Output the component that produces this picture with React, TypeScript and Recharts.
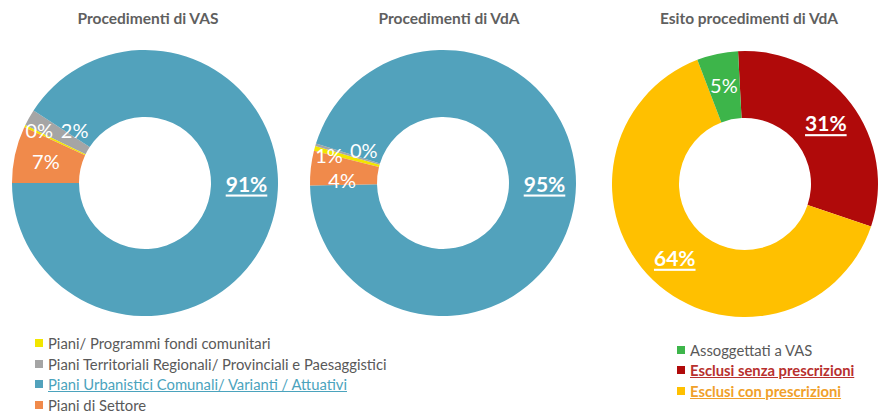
import React from "react";
import { PieChart, Pie, Cell } from "recharts";

// ---------- data ----------
const vasCategories = [
  "Piani/ Programmi fondi comunitari",
  "Piani Territoriali Regionali/ Provinciali e Paesaggistici",
  "Piani Urbanistici Comunali/ Varianti / Attuativi",
  "Piani di Settore",
];
const vasValues = [0.3, 2.0, 90.8, 6.9];
const vdaValues = [0.6, 0.3, 94.9, 4.2];

const esitoCategories = ["Esclusi senza prescrizioni", "Esclusi con prescrizioni", "Assoggettati a VAS"];
const esitoValues = [31, 64, 5];
const esitoLegendOrder = [2, 0, 1];

const chartTitles = ["Procedimenti di VAS", "Procedimenti di VdA", "Esito procedimenti di VdA"];

// ---------- styles ----------
const FONT = "Lato, 'Open Sans', sans-serif";
const planColors = ["#F2E600", "#A5A5A5", "#52A2BC", "#F08A4B"];
const esitoColors = ["#B00A0A", "#FFC000", "#3DB54A"];
const W = 887;
const H = 415;
const OUTER = 133;
const INNER = 66;
const RADIAN = Math.PI / 180;

const vasData = vasCategories.map((name, i) => ({ name, value: vasValues[i] }));
const vdaData = vasCategories.map((name, i) => ({ name, value: vdaValues[i] }));
const esitoData = esitoCategories.map((name, i) => ({ name, value: esitoValues[i] }));

type LabelCfg = {
  mainIndex: number | null;
  bold: number[];
  nudge: Record<number, [number, number]>;
};

const makeLabel = (cfg: LabelCfg) => (props: any) => {
  const { cx, cy, midAngle, innerRadius, outerRadius, index, value } = props;
  const r = (innerRadius + outerRadius) / 2 + 2;
  const ang = cfg.mainIndex === index ? 0 : midAngle;
  let x = cx + r * Math.cos(-ang * RADIAN);
  let y = cy + r * Math.sin(-ang * RADIAN);
  const n = cfg.nudge[index];
  if (n) {
    x += n[0];
    y += n[1];
  }
  const bold = cfg.bold.includes(index);
  return (
    <text
      x={x}
      y={y}
      fill="#FFFFFF"
      textAnchor="middle"
      dominantBaseline="central"
      fontFamily={FONT}
      fontSize={bold ? 21 : 20}
      fontWeight={bold ? 700 : 400}
      textDecoration={bold ? "underline" : undefined}
      style={bold ? { textDecoration: "underline" } : undefined}
    >
      {Math.round(value) + "%"}
    </text>
  );
};

const titleStyle = (cx: number): React.CSSProperties => ({
  position: "absolute",
  top: 8,
  left: cx - 110,
  width: 220,
  textAlign: "center",
  fontFamily: FONT,
  fontWeight: 700,
  fontSize: 15.5,
  color: "#5F5F5F",
  lineHeight: "20px",
});

const legendRow = (
  color: string,
  text: string,
  top: number,
  left: number,
  textStyle: React.CSSProperties
) => (
  <div
    key={text}
    style={{
      position: "absolute",
      top,
      left,
      height: 20,
      display: "flex",
      alignItems: "center",
      fontFamily: FONT,
      fontSize: 14.8,
      whiteSpace: "nowrap",
    }}
  >
    <span style={{ width: 8, height: 8, background: color, display: "inline-block", marginRight: 5 }} />
    <span style={textStyle}>{text}</span>
  </div>
);

export default function App() {
  const leftLegendStyles: React.CSSProperties[] = [
    { color: "#595959" },
    { color: "#595959" },
    { color: "#4BA3BD", textDecoration: "underline" },
    { color: "#595959" },
  ];
  const rightLegendStyles: Record<number, React.CSSProperties> = {
    2: { color: "#595959" },
    0: { color: "#B8302E", fontWeight: 700, textDecoration: "underline" },
    1: { color: "#F0A02A", fontWeight: 700, textDecoration: "underline" },
  };
  return (
    <div style={{ position: "relative", width: W, height: H, background: "#FFFFFF", overflow: "hidden" }}>
      <style>{"body{margin:0}"}</style>
      <div style={titleStyle(148)}>{chartTitles[0]}</div>
      <div style={titleStyle(449)}>{chartTitles[1]}</div>
      <div style={titleStyle(749)}>{chartTitles[2]}</div>
      <div style={{ position: "absolute", left: 0, top: 0 }}>
        <PieChart width={W} height={H} margin={{ top: 0, right: 0, bottom: 0, left: 0 }}>
          <Pie
            data={vasData}
            dataKey="value"
            cx={145}
            cy={183}
            innerRadius={INNER}
            outerRadius={OUTER}
            startAngle={155.2}
            endAngle={-204.8}
            stroke="none"
            isAnimationActive={false}
            labelLine={false}
            label={makeLabel({ mainIndex: 2, bold: [2], nudge: { 0: [-14, -10], 1: [18, -3] } })}
          >
            {vasData.map((d, i) => (
              <Cell key={d.name} fill={planColors[i]} />
            ))}
          </Pie>
          <Pie
            data={vdaData}
            dataKey="value"
            cx={443}
            cy={183}
            innerRadius={INNER}
            outerRadius={OUTER}
            startAngle={166}
            endAngle={-194}
            stroke="none"
            isAnimationActive={false}
            labelLine={false}
            label={makeLabel({ mainIndex: 2, bold: [2], nudge: { 0: [-16, -2], 1: [18, -4], 3: [0, 8] } })}
          >
            {vdaData.map((d, i) => (
              <Cell key={d.name} fill={planColors[i]} />
            ))}
          </Pie>
          <Pie
            data={esitoData}
            dataKey="value"
            cx={745}
            cy={184}
            innerRadius={INNER}
            outerRadius={OUTER}
            startAngle={93}
            endAngle={-267}
            stroke="none"
            isAnimationActive={false}
            labelLine={false}
            label={makeLabel({ mainIndex: null, bold: [0, 1], nudge: {} })}
          >
            {esitoData.map((d, i) => (
              <Cell key={d.name} fill={esitoColors[i]} />
            ))}
          </Pie>
        </PieChart>
      </div>
      {vasCategories.map((c, i) => legendRow(planColors[i], c, 333 + i * 20.7, 35, leftLegendStyles[i]))}
      {esitoLegendOrder.map((idx, j) =>
        legendRow(esitoColors[idx], esitoCategories[idx], 340 + j * 20.3, 677, rightLegendStyles[idx])
      )}
    </div>
  );
}
